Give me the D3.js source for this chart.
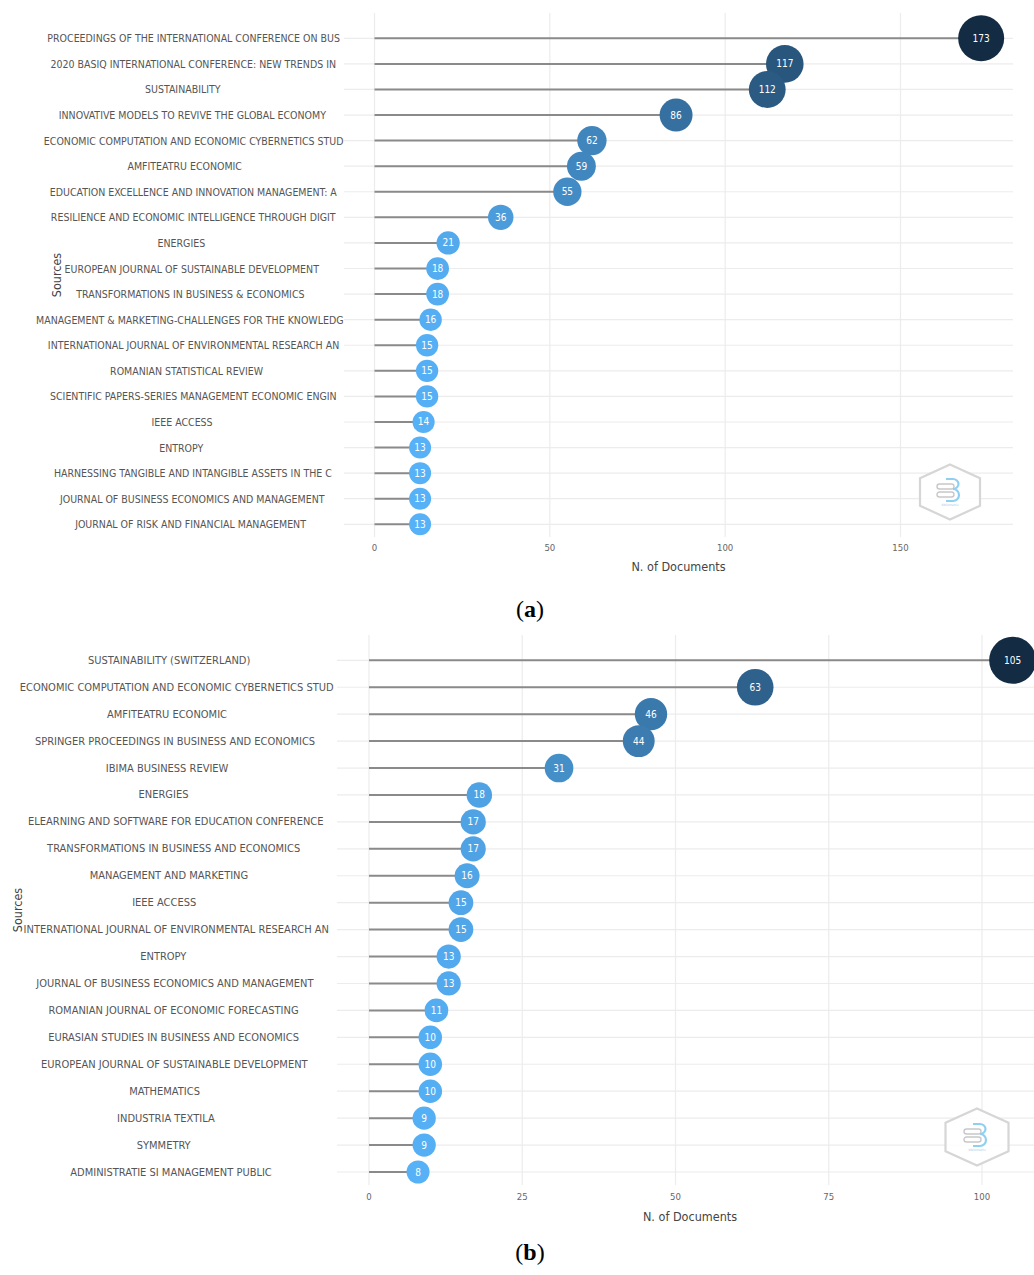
<!DOCTYPE html>
<html>
<head>
<meta charset="utf-8">
<script src="https://cdn.jsdelivr.net/npm/d3@7"></script>
<style>
  html, body { margin: 0; padding: 0; background: #ffffff; }
  svg { display: block; }
</style>
</head>
<body>
<svg id="chart" width="1034" height="1275"></svg>
<script>
// ---------------- DATA ----------------
const sourcesA = [
  "PROCEEDINGS OF THE INTERNATIONAL CONFERENCE ON BUS",
  "2020 BASIQ INTERNATIONAL CONFERENCE: NEW TRENDS IN",
  "SUSTAINABILITY",
  "INNOVATIVE MODELS TO REVIVE THE GLOBAL ECONOMY",
  "ECONOMIC COMPUTATION AND ECONOMIC CYBERNETICS STUD",
  "AMFITEATRU ECONOMIC",
  "EDUCATION EXCELLENCE AND INNOVATION MANAGEMENT: A",
  "RESILIENCE AND ECONOMIC INTELLIGENCE THROUGH DIGIT",
  "ENERGIES",
  "EUROPEAN JOURNAL OF SUSTAINABLE DEVELOPMENT",
  "TRANSFORMATIONS IN BUSINESS & ECONOMICS",
  "MANAGEMENT & MARKETING-CHALLENGES FOR THE KNOWLEDG",
  "INTERNATIONAL JOURNAL OF ENVIRONMENTAL RESEARCH AN",
  "ROMANIAN STATISTICAL REVIEW",
  "SCIENTIFIC PAPERS-SERIES MANAGEMENT ECONOMIC ENGIN",
  "IEEE ACCESS",
  "ENTROPY",
  "HARNESSING TANGIBLE AND INTANGIBLE ASSETS IN THE C",
  "JOURNAL OF BUSINESS ECONOMICS AND MANAGEMENT",
  "JOURNAL OF RISK AND FINANCIAL MANAGEMENT"
];
const docsA = [173, 117, 112, 86, 62, 59, 55, 36, 21, 18, 18, 16, 15, 15, 15, 14, 13, 13, 13, 13];
const ticksA = [0, 50, 100, 150];

const sourcesB = [
  "SUSTAINABILITY (SWITZERLAND)",
  "ECONOMIC COMPUTATION AND ECONOMIC CYBERNETICS STUD",
  "AMFITEATRU ECONOMIC",
  "SPRINGER PROCEEDINGS IN BUSINESS AND ECONOMICS",
  "IBIMA BUSINESS REVIEW",
  "ENERGIES",
  "ELEARNING AND SOFTWARE FOR EDUCATION CONFERENCE",
  "TRANSFORMATIONS IN BUSINESS AND ECONOMICS",
  "MANAGEMENT AND MARKETING",
  "IEEE ACCESS",
  "INTERNATIONAL JOURNAL OF ENVIRONMENTAL RESEARCH AN",
  "ENTROPY",
  "JOURNAL OF BUSINESS ECONOMICS AND MANAGEMENT",
  "ROMANIAN JOURNAL OF ECONOMIC FORECASTING",
  "EURASIAN STUDIES IN BUSINESS AND ECONOMICS",
  "EUROPEAN JOURNAL OF SUSTAINABLE DEVELOPMENT",
  "MATHEMATICS",
  "INDUSTRIA TEXTILA",
  "SYMMETRY",
  "ADMINISTRATIE SI MANAGEMENT PUBLIC"
];
const docsB = [105, 63, 46, 44, 31, 18, 17, 17, 16, 15, 15, 13, 13, 11, 10, 10, 10, 9, 9, 8];
const ticksB = [0, 25, 50, 75, 100];

const xTitle = "N. of Documents";
const yTitle = "Sources";
const panelTags = ["a", "b"];

// ---------------- DRAW ----------------
const svg = d3.select("#chart");
const FONT = "'DejaVu Sans Condensed', 'DejaVu Sans', sans-serif";

function drawPanel(names, values, ticks, tag, L) {
  const g = svg.append("g");
  const data = names.map((n, i) => ({ name: n, value: values[i] }));

  const x = d3.scaleLinear().domain([0, ticks[ticks.length - 1]]).range([L.x0, L.xMaxPx]);
  const y = d3.scalePoint().domain(names).range([L.yTop, L.yBot]);
  const ext = d3.extent(values);
  const r = d3.scaleLinear().domain(ext).range([L.rMin, L.rMax]);
  const col = d3.scaleLinear().domain(ext).range(["#56B1F7", "#132B43"]).interpolate(d3.interpolateLab);

  // horizontal grid lines
  g.selectAll("line.hg").data(names).join("line")
    .attr("x1", L.gridLeft).attr("x2", L.gridRight)
    .attr("y1", d => y(d)).attr("y2", d => y(d))
    .attr("stroke", "#ececec").attr("stroke-width", 1.2);

  // vertical grid lines
  g.selectAll("line.vg").data(ticks).join("line")
    .attr("x1", d => x(d)).attr("x2", d => x(d))
    .attr("y1", L.gridTop).attr("y2", L.gridBottom)
    .attr("stroke", "#ececec").attr("stroke-width", 1.2);

  // tick labels
  g.selectAll("text.tick").data(ticks).join("text")
    .attr("x", d => x(d)).attr("y", L.tickY)
    .attr("text-anchor", "middle").attr("dominant-baseline", "central")
    .attr("font-family", FONT).attr("font-size", 9.5).attr("fill", "#666")
    .text(d => d);

  // axis titles
  g.append("text")
    .attr("x", (L.gridLeft + L.gridRightTitle) / 2).attr("y", L.xTitleY)
    .attr("text-anchor", "middle").attr("dominant-baseline", "central")
    .attr("font-family", FONT).attr("font-size", 12.5).attr("fill", "#444")
    .text(xTitle);
  g.append("text")
    .attr("transform", `translate(${L.yTitleX},${(L.gridTop + L.gridBottom) / 2}) rotate(-90)`)
    .attr("text-anchor", "middle").attr("dominant-baseline", "central")
    .attr("font-family", FONT).attr("font-size", 12.5).attr("fill", "#444")
    .text(yTitle);

  // category labels
  const labs = g.selectAll("text.cat").data(names).join("text")
    .attr("y", d => y(d))
    .attr("text-anchor", "middle").attr("dominant-baseline", "central")
    .attr("font-family", FONT).attr("font-size", L.labSize).attr("fill", "#555")
    .text(d => d);
  labs.each(function () {
    const w = this.getComputedTextLength();
    const cx = Math.min(L.labC0 + 0.05 * w, L.labRight - w / 2);
    d3.select(this).attr("x", cx);
  });

  // logo (watermark)
  const lg = g.append("g").attr("transform", `translate(${L.logoX},${L.logoY})`);
  const hw = L.logoW / 2, hh = L.logoH / 2;
  const hex = [[0, -hh], [hw, -hh / 2], [hw, hh / 2], [0, hh], [-hw, hh / 2], [-hw, -hh / 2]];
  lg.append("path").attr("d", d3.line()(hex) + "Z")
    .attr("fill", "#fff").attr("fill-opacity", 0.85)
    .attr("stroke", "#d6d6d6").attr("stroke-width", 2.2);
  lg.append("rect").attr("x", -13).attr("y", -8).attr("width", 17).attr("height", 5).attr("rx", 2.5)
    .attr("fill", "none").attr("stroke", "#c8c8c8").attr("stroke-width", 1.4);
  lg.append("rect").attr("x", -13).attr("y", 0).attr("width", 17).attr("height", 5).attr("rx", 2.5)
    .attr("fill", "none").attr("stroke", "#c8c8c8").attr("stroke-width", 1.4);
  lg.append("path")
    .attr("d", "M-4,-13 L3,-13 A5.5,5 0 0 1 3,-3 A6,6 0 0 1 3,9 L-4,9")
    .attr("fill", "none").attr("stroke", "#8fd0f2").attr("stroke-width", 2.2);
  lg.append("text").attr("x", 0).attr("y", 14).attr("text-anchor", "middle")
    .attr("font-family", FONT).attr("font-size", 3.2).attr("fill", "#9fcbe6")
    .text("bibliometrix");

  // segments
  g.selectAll("line.seg").data(data).join("line")
    .attr("x1", x(0)).attr("x2", d => x(d.value))
    .attr("y1", d => y(d.name)).attr("y2", d => y(d.name))
    .attr("stroke", "#8a8a8a").attr("stroke-width", 2);

  // circles
  g.selectAll("circle.pt").data(data).join("circle")
    .attr("cx", d => x(d.value)).attr("cy", d => y(d.name))
    .attr("r", d => r(d.value))
    .attr("fill", d => col(d.value));

  // value labels
  g.selectAll("text.val").data(data).join("text")
    .attr("x", d => x(d.value)).attr("y", d => y(d.name))
    .attr("text-anchor", "middle").attr("dominant-baseline", "central")
    .attr("font-family", FONT).attr("font-size", 10).attr("fill", "#ffffff")
    .text(d => d.value);

  // panel tag "(a)"
  const t = g.append("text").attr("x", L.tagX).attr("y", L.tagY)
    .attr("text-anchor", "middle").attr("dominant-baseline", "central")
    .attr("font-family", "'Liberation Serif', 'DejaVu Serif', serif").attr("font-size", 24).attr("fill", "#000");
  t.append("tspan").text("(");
  t.append("tspan").attr("font-weight", "bold").text(tag);
  t.append("tspan").text(")");
}

drawPanel(sourcesA, docsA, ticksA, panelTags[0], {
  x0: 374.5, xMaxPx: 900.5, yTop: 38.3, yBot: 524.3,
  rMin: 11, rMax: 23,
  gridLeft: 344, gridRight: 1013, gridRightTitle: 1013, gridTop: 13, gridBottom: 537,
  tickY: 547, xTitleY: 566, yTitleX: 56,
  labSize: 10.5, labC0: 179, labRight: 343.5,
  logoX: 950, logoY: 492, logoW: 60, logoH: 55,
  tagX: 530, tagY: 609
});

drawPanel(sourcesB, docsB, ticksB, panelTags[1], {
  x0: 369, xMaxPx: 982, yTop: 660.3, yBot: 1172,
  rMin: 11.5, rMax: 23.5,
  gridLeft: 337, gridRight: 1034, gridRightTitle: 1043, gridTop: 635, gridBottom: 1185,
  tickY: 1196, xTitleY: 1216, yTitleX: 17,
  labSize: 11, labC0: 161, labRight: 336,
  logoX: 977, logoY: 1137, logoW: 63, logoH: 57,
  tagX: 530, tagY: 1252
});
</script>
</body>
</html>
